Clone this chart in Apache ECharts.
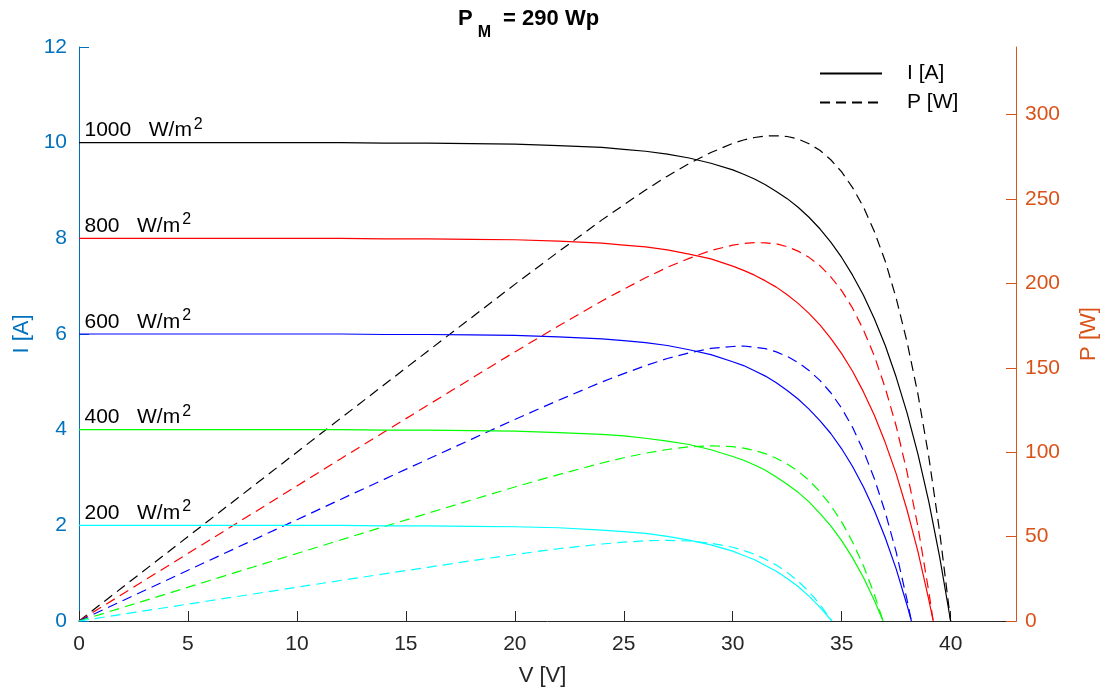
<!DOCTYPE html>
<html>
<head>
<meta charset="utf-8">
<script src="https://cdn.jsdelivr.net/npm/echarts@6/dist/echarts.min.js"></script>
<style>
  html, body { margin: 0; padding: 0; background: #fff; }
  #chart { width: 1110px; height: 696px; }
</style>
</head>
<body>
<div id="chart"></div>
<script>
// Module voltage samples [V]; each curve uses this grid up to its open-circuit voltage
const voltage = [0, 2, 4, 6, 8, 10, 12, 14, 16, 18, 20, 22, 24, 25, 26, 27, 28, 29, 30, 30.5,
  31, 31.5, 32, 32.5, 33, 33.5, 34, 34.5, 35, 35.5, 36, 36.5, 37, 37.5, 38, 38.5, 39, 39.5];

// Irradiance levels and their open-circuit voltages [V]
const irradiance = [1000, 800, 600, 400, 200];
const openCircuit = [40, 39.2, 38.2, 36.9, 34.55];
const shortCircuit = [10, 8, 6, 4, 2];
const curveColors = ['#000000', '#ff0000', '#0000ff', '#00ff00', '#00ffff'];

// Current [A] (last value sits at the open-circuit voltage)
const current1000 = [10, 10, 10, 10, 10, 10, 10, 9.99, 9.99, 9.98, 9.97, 9.94, 9.90, 9.86, 9.82, 9.76, 9.68, 9.57, 9.43, 9.34,
  9.24, 9.12, 8.98, 8.83, 8.65, 8.44, 8.20, 7.92, 7.60, 7.23, 6.81, 6.32, 5.76, 5.10, 4.35, 3.49, 2.49, 1.33, 0];
const current800 = [8, 8, 8, 8, 8, 8, 8, 7.99, 7.99, 7.98, 7.97, 7.94, 7.90, 7.86, 7.82, 7.76, 7.67, 7.57, 7.42, 7.33,
  7.23, 7.11, 6.98, 6.82, 6.64, 6.43, 6.19, 5.91, 5.59, 5.22, 4.79, 4.30, 3.73, 3.08, 2.32, 1.45, 0.44, 0];
const current600 = [6, 6, 6, 6, 6, 6, 6, 5.99, 5.99, 5.98, 5.97, 5.94, 5.90, 5.86, 5.82, 5.76, 5.67, 5.57, 5.42, 5.34,
  5.23, 5.12, 4.98, 4.82, 4.64, 4.43, 4.19, 3.92, 3.60, 3.23, 2.80, 2.31, 1.74, 1.09, 0.33, 0];
const current400 = [4, 4, 4, 4, 4, 4, 4, 3.99, 3.99, 3.98, 3.97, 3.94, 3.90, 3.87, 3.82, 3.76, 3.69, 3.58, 3.44, 3.36,
  3.26, 3.15, 3.01, 2.86, 2.69, 2.49, 2.25, 1.99, 1.68, 1.32, 0.91, 0.43, 0];
const current200 = [2, 2, 2, 2, 2, 2, 2, 1.99, 1.99, 1.98, 1.97, 1.95, 1.90, 1.87, 1.83, 1.77, 1.69, 1.59, 1.46, 1.37,
  1.28, 1.16, 1.04, 0.89, 0.72, 0.52, 0.29, 0];

// Power [W] on the same voltage samples
const power1000 = [0, 20, 40, 60, 80, 100, 120, 139.9, 159.8, 179.6, 199.4, 218.7, 237.6, 246.5, 255.3, 263.5, 271.0, 277.5, 282.9, 284.9,
  286.4, 287.3, 287.4, 287.0, 285.5, 282.7, 278.8, 273.2, 266.0, 256.7, 245.2, 230.7, 213.1, 191.3, 165.3, 134.4, 97.1, 52.5, 0];
const power800 = [0, 16, 32, 48, 64, 80, 96, 111.9, 127.8, 143.6, 159.4, 174.7, 189.6, 196.5, 203.3, 209.5, 214.8, 219.5, 222.6, 223.6,
  224.1, 224.0, 223.4, 221.7, 219.1, 215.4, 210.5, 203.9, 195.7, 185.3, 172.4, 157.0, 138.0, 115.5, 88.2, 55.8, 17.2, 0];
const power600 = [0, 12, 24, 36, 48, 60, 72, 83.9, 95.8, 107.6, 119.4, 130.7, 141.6, 146.5, 151.3, 155.5, 158.8, 161.5, 162.6, 162.9,
  162.1, 161.3, 159.4, 156.7, 153.1, 148.4, 142.5, 135.2, 126.0, 114.7, 100.8, 84.3, 64.4, 40.9, 12.5, 0];
const power400 = [0, 8, 16, 24, 32, 40, 48, 55.9, 63.8, 71.6, 79.4, 86.7, 93.6, 96.7, 99.4, 101.6, 103.2, 103.8, 103.3, 102.4,
  101.0, 99.1, 96.4, 93.0, 88.7, 83.3, 76.6, 68.5, 58.7, 46.8, 32.7, 15.8, 0];
const power200 = [0, 4, 8, 12, 16, 20, 24, 27.9, 31.8, 35.7, 39.4, 42.8, 45.6, 46.7, 47.5, 47.8, 47.4, 46.1, 43.7, 41.8,
  39.5, 36.6, 33.1, 28.8, 23.6, 17.4, 9.9, 0];

// Axis ticks
const voltageTicks = [0, 5, 10, 15, 20, 25, 30, 35, 40];
const powerTicks = [0, 50, 100, 150, 200, 250, 300];

const currents = [current1000, current800, current600, current400, current200];
const powers = [power1000, power800, power600, power400, power200];

const FONT = '"Liberation Sans", Arial, Helvetica, sans-serif';
const AXIS_GREY = '#262626';
const LEFT_BLUE = '#0072BD';
const RIGHT_ORANGE = '#D95319';
const DASH = [10, 6];

// Pair values with the voltage grid; the final value belongs to the open-circuit voltage
function pairs(values, voc) {
  return values.map((v, i) => [i < values.length - 1 ? voltage[i] : voc, v]);
}

const series = [];
irradiance.forEach((g, k) => {
  series.push({
    type: 'line',
    name: 'I ' + g,
    yAxisIndex: 0,
    data: pairs(currents[k], openCircuit[k]),
    showSymbol: false,
    symbol: 'none',
    silent: true,
    z: 3,
    lineStyle: { color: curveColors[k], width: 1.2 },
    markPoint: {
      symbol: 'rect',
      symbolSize: 1,
      itemStyle: { color: 'rgba(0,0,0,0)' },
      silent: true,
      label: {
        show: true,
        position: [6, -1],
        align: 'left',
        verticalAlign: 'bottom',
        formatter: '{n|' + g + '   W/m}{s|2}',
        rich: {
          n: { fontSize: 21, color: '#000', fontFamily: FONT, verticalAlign: 'bottom' },
          s: { fontSize: 16, color: '#000', fontFamily: FONT, verticalAlign: 'bottom', padding: [0, 0, 9, 2] }
        }
      },
      data: [{ coord: [0, shortCircuit[k]] }]
    }
  });
});
irradiance.forEach((g, k) => {
  series.push({
    type: 'line',
    name: 'P ' + g,
    yAxisIndex: 1,
    data: pairs(powers[k], openCircuit[k]),
    showSymbol: false,
    symbol: 'none',
    silent: true,
    z: 2,
    lineStyle: { color: curveColors[k], width: 1.2, type: DASH }
  });
});
// Legend entries describing the two line styles
series.push({ type: 'line', name: 'I [A]', data: [], symbol: 'none', showSymbol: false,
  lineStyle: { color: '#000', width: 1.2 }, itemStyle: { color: '#000' } });
series.push({ type: 'line', name: 'P [W]', data: [], symbol: 'none', showSymbol: false, yAxisIndex: 1,
  lineStyle: { color: '#000', width: 1.2, type: DASH }, itemStyle: { color: '#000' } });

const chart = echarts.init(document.getElementById('chart'), null, { renderer: 'canvas' });
chart.setOption({
  animation: false,
  backgroundColor: '#ffffff',
  title: {
    text: '{p|P}{m|M}{t| = 290 Wp}',
    left: 458,
    top: 8,
    padding: 0,
    textStyle: {
      rich: {
        p: { fontSize: 22, fontWeight: 'bold', color: '#000', fontFamily: FONT, verticalAlign: 'top' },
        m: { fontSize: 16, fontWeight: 'bold', color: '#000', fontFamily: FONT, verticalAlign: 'top', padding: [17, 0, 0, 5] },
        t: { fontSize: 22, fontWeight: 'bold', color: '#000', fontFamily: FONT, verticalAlign: 'top', padding: [0, 0, 0, 6] }
      }
    }
  },
  legend: {
    data: ['I [A]', 'P [W]'],
    orient: 'vertical',
    left: 814,
    top: 58,
    itemWidth: 62,
    itemHeight: 14,
    itemGap: 8,
    itemStyle: { opacity: 0 },
    textStyle: { fontSize: 21, color: '#000', fontFamily: FONT, padding: [0, 0, 0, 20] },
    selectedMode: false
  },
  grid: { left: 79, right: 94, top: 47, bottom: 75, containLabel: false },
  xAxis: {
    type: 'value',
    min: 0,
    max: 43,
    interval: 5,
    name: 'V [V]',
    nameLocation: 'middle',
    nameGap: 44,
    nameTextStyle: { fontSize: 22, color: AXIS_GREY, fontFamily: FONT, padding: [0, 10, 0, 0] },
    axisLine: { show: true, onZero: false, lineStyle: { color: AXIS_GREY, width: 1 } },
    axisTick: { show: true, inside: true, length: 10, customValues: voltageTicks, lineStyle: { color: AXIS_GREY } },
    axisLabel: { fontSize: 21, color: AXIS_GREY, fontFamily: FONT, margin: 13, customValues: voltageTicks },
    splitLine: { show: false }
  },
  yAxis: [
    {
      type: 'value',
      min: 0,
      max: 12,
      interval: 2,
      position: 'left',
      name: 'I [A]',
      nameLocation: 'middle',
      nameGap: 46,
      nameRotate: 90,
      nameTextStyle: { fontSize: 22, color: LEFT_BLUE, fontFamily: FONT },
      axisLine: { show: true, onZero: false, lineStyle: { color: LEFT_BLUE, width: 1 } },
      axisTick: { show: true, inside: true, length: 10, lineStyle: { color: LEFT_BLUE } },
      axisLabel: { fontSize: 21, color: LEFT_BLUE, fontFamily: FONT, margin: 12 },
      splitLine: { show: false }
    },
    {
      type: 'value',
      min: 0,
      max: 340,
      interval: 50,
      position: 'right',
      name: 'P [W]',
      nameLocation: 'middle',
      nameGap: 62,
      nameRotate: 90,
      nameTextStyle: { fontSize: 22, color: RIGHT_ORANGE, fontFamily: FONT },
      axisLine: { show: true, onZero: false, lineStyle: { color: RIGHT_ORANGE, width: 1 } },
      axisTick: { show: true, inside: true, length: 10, customValues: powerTicks, lineStyle: { color: RIGHT_ORANGE } },
      axisLabel: { fontSize: 21, color: RIGHT_ORANGE, fontFamily: FONT, margin: 9, customValues: powerTicks },
      splitLine: { show: false }
    }
  ],
  series: series
});
</script>
</body>
</html>
